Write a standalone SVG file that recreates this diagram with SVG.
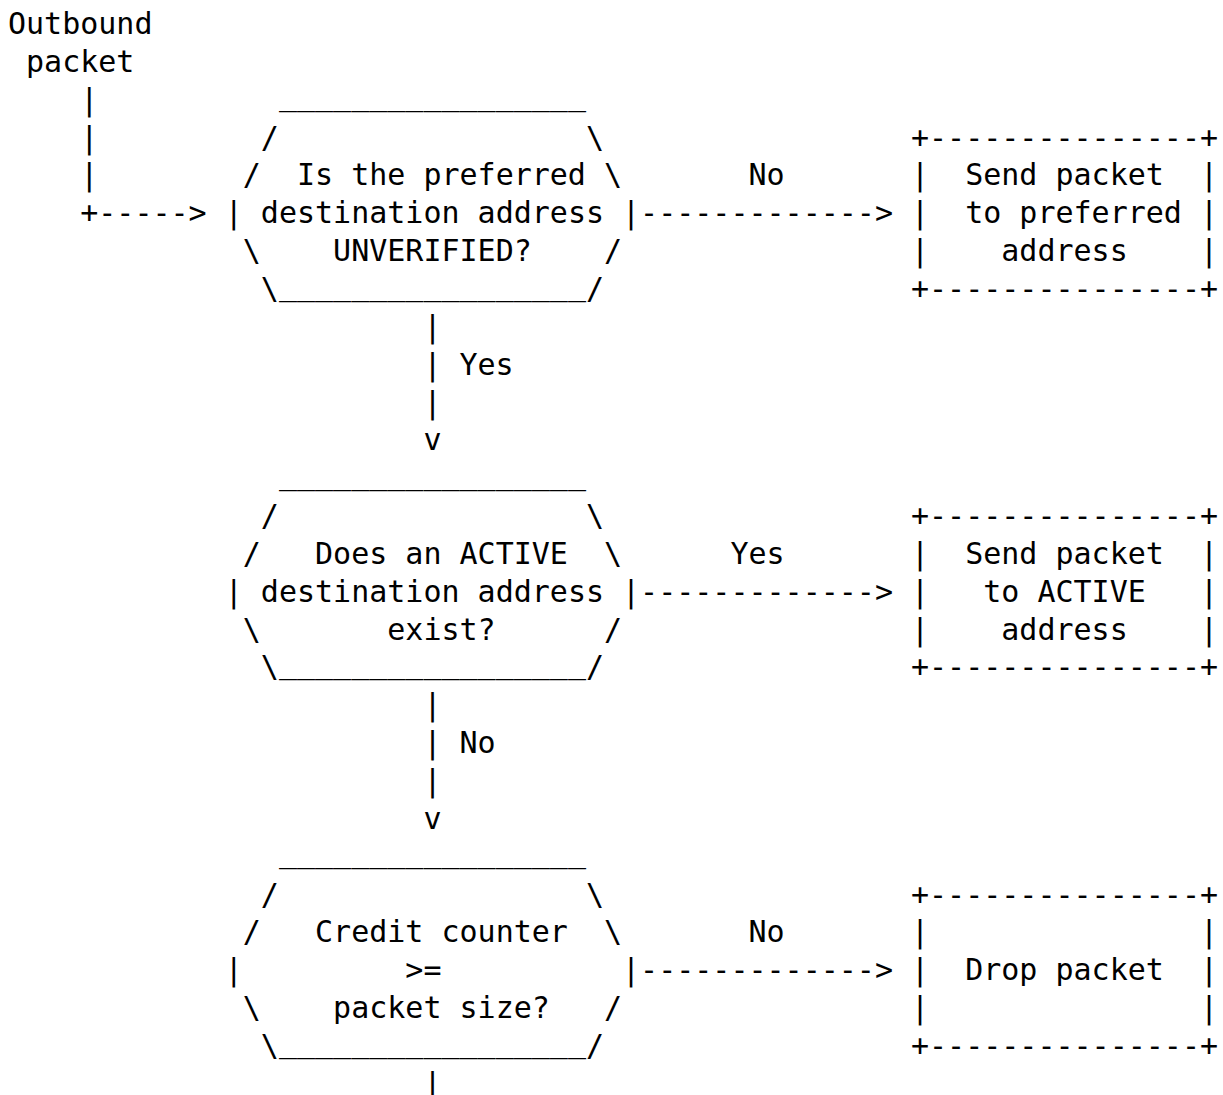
<svg xmlns="http://www.w3.org/2000/svg" width="1223" height="1095" viewBox="0 0 1223 1095">
<style>
text{font-family:"DejaVu Sans Mono","Liberation Mono",monospace;font-size:30px;fill:#000;white-space:pre}
</style>
<rect width="1223" height="1095" fill="#fff"/>
<g id="start" xml:space="preserve">
<text x="8" y="34">Outbound</text>
<text x="26.06" y="71.85">packet</text>
</g>
<g id="decision1" xml:space="preserve">
<text x="278.9" y="105">_________________</text>
<text x="260.84" y="147.55">/                 \</text>
<text x="242.78" y="185.4">/  Is the preferred \</text>
<text x="224.72" y="223.25">| destination address |</text>
<text x="242.78" y="261.1">\    UNVERIFIED?    /</text>
<text x="260.84" y="298.95">\</text>
<text x="278.9" y="294.5">_________________</text>
<text x="585.92" y="298.95">/</text>
</g>
<g id="box1" xml:space="preserve">
<text x="911" y="147.55">+---------------+</text>
<text x="911" y="185.4">|  Send packet  |</text>
<text x="911" y="223.25">|  to preferred |</text>
<text x="911" y="261.1">|    address    |</text>
<text x="911" y="298.95">+---------------+</text>
</g>
<g id="decision2" xml:space="preserve">
<text x="278.9" y="483.5">_________________</text>
<text x="260.84" y="526.05">/                 \</text>
<text x="242.78" y="563.9">/   Does an ACTIVE  \</text>
<text x="224.72" y="601.75">| destination address |</text>
<text x="242.78" y="639.6">\       exist?      /</text>
<text x="260.84" y="677.45">\</text>
<text x="278.9" y="673">_________________</text>
<text x="585.92" y="677.45">/</text>
</g>
<g id="box2" xml:space="preserve">
<text x="911" y="526.05">+---------------+</text>
<text x="911" y="563.9">|  Send packet  |</text>
<text x="911" y="601.75">|   to ACTIVE   |</text>
<text x="911" y="639.6">|    address    |</text>
<text x="911" y="677.45">+---------------+</text>
</g>
<g id="decision3" xml:space="preserve">
<text x="278.9" y="862">_________________</text>
<text x="260.84" y="904.55">/                 \</text>
<text x="242.78" y="942.4">/   Credit counter  \</text>
<text x="224.72" y="980.25">|         &gt;=          |</text>
<text x="242.78" y="1018.1">\    packet size?   /</text>
<text x="260.84" y="1055.95">\</text>
<text x="278.9" y="1051.5">_________________</text>
<text x="585.92" y="1055.95">/</text>
</g>
<g id="box3" xml:space="preserve">
<text x="911" y="904.55">+---------------+</text>
<text x="911" y="942.4">|               |</text>
<text x="911" y="980.25">|  Drop packet  |</text>
<text x="911" y="1018.1">|               |</text>
<text x="911" y="1055.95">+---------------+</text>
</g>
<g id="connectors" xml:space="preserve">
<text x="80.24" y="109.7">|</text>
<text x="80.24" y="147.55">|</text>
<text x="80.24" y="185.4">|</text>
<text x="80.24" y="223.25">+-----&gt;</text>
<text x="748.46" y="185.4">No</text>
<text x="640.1" y="223.25">-------------&gt;</text>
<text x="423.38" y="336.8">|</text>
<text x="423.38" y="374.65">| Yes</text>
<text x="423.38" y="412.5">|</text>
<text x="423.38" y="450.35">v</text>
<text x="730.4" y="563.9">Yes</text>
<text x="640.1" y="601.75">-------------&gt;</text>
<text x="423.38" y="715.3">|</text>
<text x="423.38" y="753.15">| No</text>
<text x="423.38" y="791">|</text>
<text x="423.38" y="828.85">v</text>
<text x="748.46" y="942.4">No</text>
<text x="640.1" y="980.25">-------------&gt;</text>
<text x="423.38" y="1093.8">|</text>
</g>
</svg>
